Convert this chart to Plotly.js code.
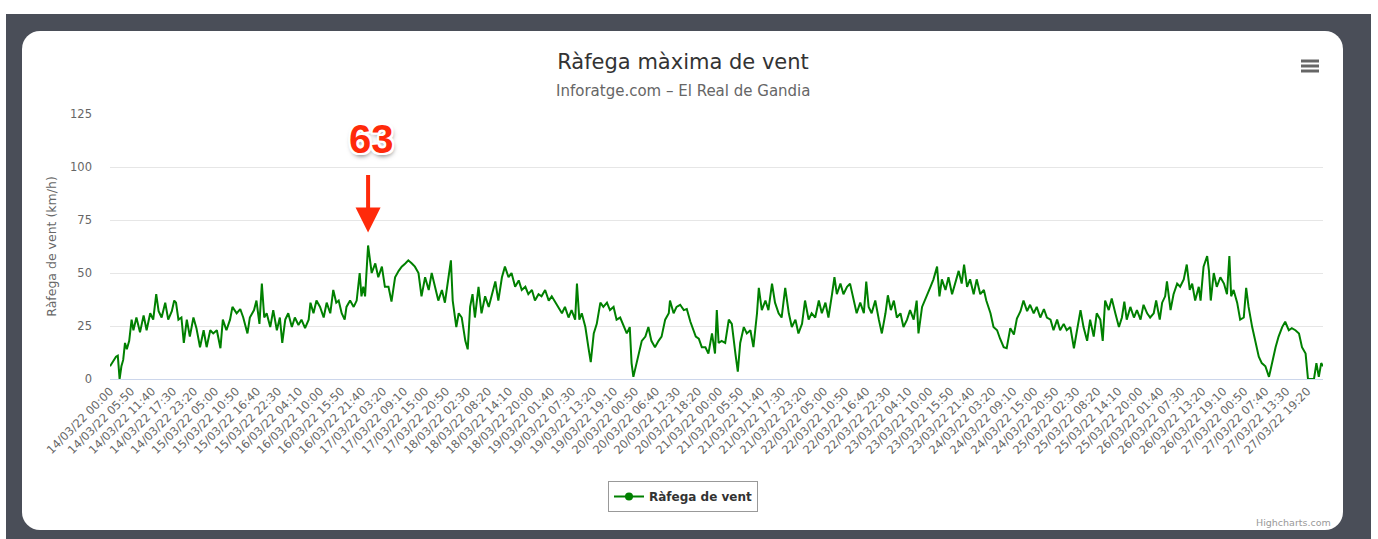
<!DOCTYPE html>
<html>
<head>
<meta charset="utf-8">
<script src="https://cdn.plot.ly/plotly-3.0.1.min.js"></script>
<style>
  html, body { margin: 0; padding: 0; background: #ffffff; width: 1378px; height: 539px; overflow: hidden; }
  #frame { position: absolute; left: 6px; top: 14px; width: 1365px; height: 530px; background: #4a4e58; }
  #card { position: absolute; left: 22px; top: 31px; width: 1321px; height: 499px; background: #ffffff; border-radius: 18px; }
  #chart { position: absolute; left: 0; top: 0; width: 1378px; height: 539px; }
</style>
</head>
<body>
<div id="frame"></div>
<div id="card"></div>
<div id="chart"></div>
<script>
// ---- Data (10-minute slot index from 14/03/22 00:00, gust km/h) ----
const slot = [0,6,10,13,16,19,22,25,28,32,36,39,44,50,56,61,67,72,77,81,86,92,97,103,107,110,114,119,123,128,133,139,144,150,156,161,167,172,178,184,188,194,200,204,211,217,222,229,233,240,244,249,253,257,261,267,272,278,283,287,292,297,303,308,314,319,325,331,334,339,344,350,356,361,367,372,377,381,386,391,394,400,406,411,416,419,422,425,430,
436,442,447,453,458,464,469,475,481,486,492,497,503,508,514,519,525,531,536,542,547,553,558,564,568,571,577,581,586,592,596,600,604,608,614,619,625,631,636,642,647,653,658,664,669,675,681,686,692,697,703,708,714,719,725,731,736,742,747,753,758,764,769,775,778,782,786,792,797,801,806,811,817,822,828,833,839,844,850,856,861,866,869,872,877,881,886,892,897,902,908,914,919,925,931,933,939,944,950,956,961,967,972,976,
981,986,992,997,1003,1008,1011,1014,1019,1025,1031,1036,1042,1046,1050,1056,1061,1067,1072,1078,1081,1086,1092,1097,1103,1108,1114,1119,1125,1131,1136,1142,1147,1153,1158,1164,1169,1175,1181,1186,1192,1197,1203,1207,1211,1217,1222,1228,1233,1239,1244,1250,1256,1260,1264,1269,1275,1281,1286,1292,1296,1301,1306,1311,1317,1322,1328,1333,1339,1344,1347,1353,1361,1367,1372,1378,1382,1386,1392,1397,1403,1408,1414,1419,1423,1428,1433,1439,1444,1450,1456,1460,1467,1472,1478,1483,1489,1494,1500,1506,1511,1517,1522,1528,1533,
1539,1544,1550,1556,1561,1567,1572,1578,1583,1589,1594,1600,1606,1611,1617,1622,1628,1633,1639,1644,1650,1654,1658,1664,1669,1675,1681,1686,1690,1694,1700,1706,1711,1717,1722,1728,1733,1739,1743,1749,1753,1758,1761,1767,1772,1778,1783,1789,1794,1799,1803,1808,1814,1817,1822,1828,1831,1834,1839,1844,1850,1856,1861,1865,1868,1872,1878,1883,1889,1893,1897,1903,1908,1914,1919,1925,1931,1936,1942,1947,1953,1958,1964,1969,1975,1981,1986,1992,1996,2006,2010,2014,2018,2021];

const gust = [6,9,10.5,11,0,6,9,17,14,18,28,23,29,22,30,23,31,28,40,32,29,36,28,32,37,36,28,29,17,28,20,29,24,15,23,15,23,21.5,23,14.5,28,23,28,34,31,33,29,21.5,29,32.5,37,26,45,29,31,24.5,32.5,23,29,17,28,31,24.5,29,25.5,28,24,28,36,31,37,34,29,36,31,42,36,37,31,28,34,37,34,37,50,39,43.5,39,63,
50,54.5,48,53,43.5,43.5,36.5,48,51,53,54.5,56,54.5,53,50,39,48,42,50,43.5,37,42,36,48,56,37,24.5,31,29,18,14,34,40,29,43.5,31,39,34,39,46,37,48,53,48,50,43.5,46.5,42,43.5,40,42,37,40,39,42,37,39,36,34,31,34,29,32.5,28,45,28,31,24.5,15,8,21.5,26,36,34,36,32.5,34,28,29,24.5,21.5,24.5,7.5,1,7.5,12,18,20,24.5,18,15,18,20,28,31,37,31,34,35,32.5,33,27,23,20,
19,15,15,12,21.5,12,32.5,17,18,17,28,26,12,3.5,17,24.5,21.5,23,15,31,43,32.5,37,32.5,45,36,31,29,43,31,24.5,28,21.5,26,37,28,31,29,37,31,36,29,40,48,40,45,40,43.5,45,37,31,36,31,46,34,31,37,28,21.5,31,39.5,32.5,37,29,31,24.5,28,32.5,28,37,21.5,34,40,43.5,47,53,39,47,42,48,40,45,51,45,54,43.5,47,40,47,40,42,37,31,24.5,23,19,15,14.5,24,21,28.5,32,37,32,35,
31,34,29,33,29,28,23,28,23,26,23,24.5,14.5,23,32.5,24.5,18,28,20,31,28,18,37,32.5,38,31,24.5,29,36.5,28,34,29,32.5,28,35,31,29,31,37,28,36,39,46,32.5,40,45,43.5,47,54,42,45,37,43.5,37,53,58,51,37,50,43.5,48,45,40,58,39,42,36,28,29,43,34,24.5,18,10.5,7.5,6,1,7.5,15,20,24.5,27,23,24,23,21.5,15,12,0,0,7.5,1,7.5,6];

const tickLabels = [
  "14/03/22 00:00","14/03/22 05:50","14/03/22 11:40","14/03/22 17:30","14/03/22 23:20",
  "15/03/22 05:00","15/03/22 10:50","15/03/22 16:40","15/03/22 22:30",
  "16/03/22 04:10","16/03/22 10:00","16/03/22 15:50","16/03/22 21:40",
  "17/03/22 03:20","17/03/22 09:10","17/03/22 15:00","17/03/22 20:50",
  "18/03/22 02:30","18/03/22 08:20","18/03/22 14:10","18/03/22 20:00",
  "19/03/22 01:40","19/03/22 07:30","19/03/22 13:20","19/03/22 19:10",
  "20/03/22 00:50","20/03/22 06:40","20/03/22 12:30","20/03/22 18:20",
  "21/03/22 00:00","21/03/22 05:50","21/03/22 11:40","21/03/22 17:30","21/03/22 23:20",
  "22/03/22 05:00","22/03/22 10:50","22/03/22 16:40","22/03/22 22:30",
  "23/03/22 04:10","23/03/22 10:00","23/03/22 15:50","23/03/22 21:40",
  "24/03/22 03:20","24/03/22 09:10","24/03/22 15:00","24/03/22 20:50",
  "25/03/22 02:30","25/03/22 08:20","25/03/22 14:10","25/03/22 20:00",
  "26/03/22 01:40","26/03/22 07:30","26/03/22 13:20","26/03/22 19:10",
  "27/03/22 00:50","27/03/22 07:40","27/03/22 13:30","27/03/22 19:20"
];
const yTicks = [0, 25, 50, 75, 100, 125];
const seriesName = "Ràfega de vent";
const titleText = "Ràfega màxima de vent";
const subtitleText = "Inforatge.com – El Real de Gandia";
const yTitle = "Ràfega de vent (km/h)";

// ---- Layout helpers ----
const W = 1378, H = 539;
const M = {l: 110, r: 55, t: 114, b: 160};
const PW = W - M.l - M.r, PH = H - M.t - M.b;
const px = x => (x - M.l) / PW;          // pixel -> paper x
const py = y => (H - M.b - y) / PH;      // pixel -> paper y

const tickStep = 35;
const tickVals = tickLabels.map((_, k) => k * tickStep);

const peakIdx = gust.indexOf(Math.max(...gust));
const peakVal = gust[peakIdx];
const peakSlot = slot[peakIdx];

const FONT = "DejaVu Sans, Open Sans, sans-serif";
const green = "#008000";

const traces = [
  {
    x: slot, y: gust, type: "scatter", mode: "lines",
    line: {color: green, width: 2},
    name: seriesName, showlegend: false, hoverinfo: "x+y"
  },
  {
    x: [null], y: [null], type: "scatter", mode: "lines+markers",
    line: {color: green, width: 2},
    marker: {color: green, size: 8},
    name: seriesName, showlegend: true
  }
];

const menuLines = [61, 66, 71].map(yy => ({
  type: "line", xref: "paper", yref: "paper",
  x0: px(1301), x1: px(1319), y0: py(yy), y1: py(yy),
  line: {color: "#666666", width: 3}
}));

const layout = {
  width: W, height: H,
  margin: M,
  paper_bgcolor: "rgba(0,0,0,0)",
  plot_bgcolor: "rgba(0,0,0,0)",
  font: {family: FONT, color: "#666666", size: 12},
  title: {
    text: titleText,
    x: 683 / W, xref: "container", xanchor: "center",
    y: 1 - 62 / H, yref: "container", yanchor: "middle",
    font: {family: FONT, size: 21, color: "#333333"}
  },
  xaxis: {
    type: "linear",
    range: [0, 2021],
    tickmode: "array", tickvals: tickVals, ticktext: tickLabels,
    tickangle: -45,
    tickfont: {size: 11.5, color: "#666666"},
    showgrid: false, zeroline: false,
    showline: true, linecolor: "#ccd6eb", linewidth: 1,
    ticks: "", fixedrange: true
  },
  yaxis: {
    range: [0, 125],
    tickmode: "array", tickvals: yTicks,
    tickfont: {size: 11.5, color: "#666666"},
    gridcolor: "#e6e6e6", gridwidth: 1,
    zeroline: false, showline: false, ticks: "",
    ticklabelstandoff: 17,
    title: {text: yTitle, font: {size: 12.5, color: "#666666"}, standoff: 10},
    fixedrange: true
  },
  legend: {
    orientation: "h",
    x: px(683), xanchor: "center",
    y: py(481), yanchor: "top",
    bordercolor: "#999999", borderwidth: 1,
    bgcolor: "#ffffff",
    font: {size: 12, color: "#333333", weight: "bold"}
  },
  shapes: menuLines,
  annotations: [
    {
      text: subtitleText, xref: "paper", yref: "paper",
      x: px(683), y: py(91), xanchor: "center", yanchor: "middle",
      showarrow: false, font: {size: 15, color: "#666666"}
    },
    {
      text: "Highcharts.com", xref: "paper", yref: "paper",
      x: px(1333), y: py(522), xanchor: "right", yanchor: "middle",
      showarrow: false, font: {size: 9.5, color: "#999999"}
    },
    {
      x: peakSlot, y: peakVal, xref: "x", yref: "y",
      text: "", showarrow: true, ax: 0, ay: -72,
      arrowcolor: "#ff2a0a", arrowwidth: 4, arrowhead: 2, arrowsize: 1.25,
      standoff: 13
    },
    {
      x: peakSlot, y: peakVal, xref: "x", yref: "y",
      text: String(Math.round(peakVal)), showarrow: false,
      xanchor: "center", yanchor: "middle", yshift: 106, xshift: 3,
      font: {family: "Liberation Sans, Arial, sans-serif", size: 40, color: "#ff2a0a", weight: "bold",
             shadow: "2px 0 0 #fff, -2px 0 0 #fff, 0 2px 0 #fff, 0 -2px 0 #fff, 2px 2px 0 #fff, -2px -2px 0 #fff, 2px -2px 0 #fff, -2px 2px 0 #fff, 1px 3px 5px rgba(0,0,0,0.55)"}
    }
  ]
};

Plotly.newPlot("chart", traces, layout, {displayModeBar: false, staticPlot: true});
</script>
</body>
</html>
